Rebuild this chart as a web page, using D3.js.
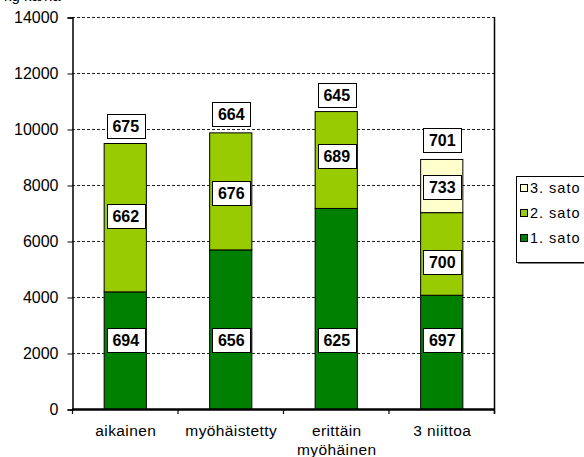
<!DOCTYPE html>
<html>
<head>
<meta charset="utf-8">
<script src="https://cdn.jsdelivr.net/npm/d3@7"></script>
<style>
  html, body { margin: 0; padding: 0; background: #fff; }
  svg text { font-family: "Liberation Sans", Arial, sans-serif; }
</style>
</head>
<body>
<svg id="chart" width="584" height="457"></svg>
<script>
// Harvest treatments (x categories)
const categories = ["aikainen", "myöhäistetty", "erittäin myöhäinen", "3 niittoa"];
const seriesNames = ["1. sato", "2. sato", "3. sato"];
// Yield of each cut (kg/ha)
const sato1 = [4200, 5700, 7180, 4080];
const sato2 = [5300, 4180, 3460, 2950];
const sato3 = [0, 0, 0, 1900];
// Figures printed in the boxes for each cut
const labels1 = [694, 656, 625, 697];
const labels2 = [662, 676, 689, 700];
const labels3 = [null, null, null, 733];
const labelsTop = [675, 664, 645, 701];
// Heights (in kg/ha) at which the boxes sit
const level1 = [2450, 2450, 2450, 2450];
const level2 = [6900, 7700, 9040, 5250];
const level3 = [null, null, null, 7940];
const levelTop = [10100, 10540, 11230, 9610];
const yTicks = [0, 2000, 4000, 6000, 8000, 10000, 12000, 14000];
const colors = ["#008000", "#99cc00", "#ffffcc"];

const svg = d3.select("#chart");
const plot = { left: 72, right: 494, top: 17, bottom: 409 };

const x = d3.scaleBand().domain(categories)
  .range([plot.left, plot.right]).paddingInner(0.6).paddingOuter(0.3);
const xEdges = d3.scaleLinear().domain([0, categories.length]).range([plot.left, plot.right]);
const y = d3.scaleLinear().domain([0, 14000]).range([plot.bottom, plot.top]);

// axis label in the top-left corner, mostly above the frame
svg.append("text").attr("x", 4).attr("y", 1).attr("font-size", 15).attr("fill", "#000")
  .text("kg ka/ha");

// gridlines
svg.append("g").selectAll("line").data(yTicks.filter(d => d > 0)).join("line")
  .attr("x1", plot.left).attr("x2", plot.right)
  .attr("y1", d => y(d) + 0.5).attr("y2", d => y(d) + 0.5)
  .attr("stroke", "#222").attr("stroke-width", 1).attr("stroke-dasharray", "3,2");

// right frame edge
svg.append("line").attr("x1", plot.right + 0.5).attr("x2", plot.right + 0.5)
  .attr("y1", plot.top).attr("y2", plot.bottom + 5).attr("stroke", "#000").attr("stroke-width", 1.5);

// stacked bars
const stackData = categories.map((c, i) => ({ cat: c, s0: sato1[i], s1: sato2[i], s2: sato3[i] }));
const stack = d3.stack().keys(["s0", "s1", "s2"])(stackData);
const gBars = svg.append("g");
stack.forEach((layer, k) => {
  gBars.selectAll(null).data(layer.filter(d => d[1] > d[0])).join("rect")
    .attr("x", d => x(d.data.cat) + 0.5)
    .attr("y", d => y(d[1]) + 0.5)
    .attr("width", x.bandwidth())
    .attr("height", d => y(d[0]) - y(d[1]))
    .attr("fill", colors[k])
    .attr("stroke", "#000").attr("stroke-width", 1);
});

// y axis
const yAxis = d3.axisLeft(y).tickValues(yTicks).tickSize(5).tickPadding(9).tickFormat(d3.format("d"));
const gy = svg.append("g").attr("transform", `translate(${plot.left + 0.5},0.5)`).call(yAxis);
gy.select(".domain").attr("stroke", "#000").attr("stroke-width", 1.5);
gy.selectAll(".tick line").attr("stroke", "#000");
gy.selectAll(".tick text").attr("font-size", 16).attr("fill", "#000")
  .attr("font-family", "'Liberation Sans', Arial, sans-serif");

// x axis (base line and category separators)
svg.append("line").attr("x1", plot.left).attr("x2", plot.right + 1)
  .attr("y1", plot.bottom + 0.5).attr("y2", plot.bottom + 0.5)
  .attr("stroke", "#000").attr("stroke-width", 2.5);
svg.append("g").selectAll("line").data(d3.range(categories.length + 1)).join("line")
  .attr("x1", d => xEdges(d) + 0.5).attr("x2", d => xEdges(d) + 0.5)
  .attr("y1", plot.bottom).attr("y2", plot.bottom + 5)
  .attr("stroke", "#000").attr("stroke-width", 1.2);

// category labels (split onto two lines where needed)
const xLabelLines = { "erittäin myöhäinen": ["erittäin", "myöhäinen"] };
const gx = svg.append("g");
categories.forEach(c => {
  const lines = xLabelLines[c] || [c];
  const t = gx.append("text").attr("text-anchor", "middle").attr("font-size", 15.5)
    .attr("letter-spacing", 0.4).attr("fill", "#000");
  lines.forEach((l, i) => {
    t.append("tspan").attr("x", x(c) + x.bandwidth() / 2 + 1).attr("y", 436 + i * 19).text(l);
  });
});

// value boxes
function drawBoxes(vals, levels) {
  vals.forEach((v, i) => {
    if (v == null) return;
    const cx = x(categories[i]) + x.bandwidth() / 2 + 1;
    const cy = y(levels[i]);
    const w = 38, h = 24;
    svg.append("rect").attr("x", Math.round(cx - w / 2) + 0.5).attr("y", Math.round(cy - h / 2) + 0.5)
      .attr("width", w).attr("height", h).attr("fill", "#fff")
      .attr("stroke", "#000").attr("stroke-width", 1);
    svg.append("text").attr("x", cx).attr("y", cy + 6)
      .attr("text-anchor", "middle").attr("font-size", 16).attr("font-weight", "bold")
      .attr("fill", "#000").text(v);
  });
}
drawBoxes(labels1, level1);
drawBoxes(labels2, level2);
drawBoxes(labels3, level3);
drawBoxes(labelsTop, levelTop);

// legend
const leg = svg.append("g");
leg.append("rect").attr("x", 518).attr("y", 178).attr("width", 70).attr("height", 86)
  .attr("fill", "#808080");
leg.append("rect").attr("x", 516.5).attr("y", 176.5).attr("width", 70).attr("height", 86)
  .attr("fill", "#fff").attr("stroke", "#000").attr("stroke-width", 1);
const legOrder = [2, 1, 0];
legOrder.forEach((k, i) => {
  const cy = 188 + i * 25;
  leg.append("rect").attr("x", 520.5).attr("y", cy - 3.5).attr("width", 7).attr("height", 7)
    .attr("fill", colors[k]).attr("stroke", "#000").attr("stroke-width", 1);
  leg.append("text").attr("x", 530).attr("y", cy + 5).attr("font-size", 14.5)
    .attr("letter-spacing", 1).attr("fill", "#000").text(seriesNames[k]);
});
</script>
</body>
</html>
